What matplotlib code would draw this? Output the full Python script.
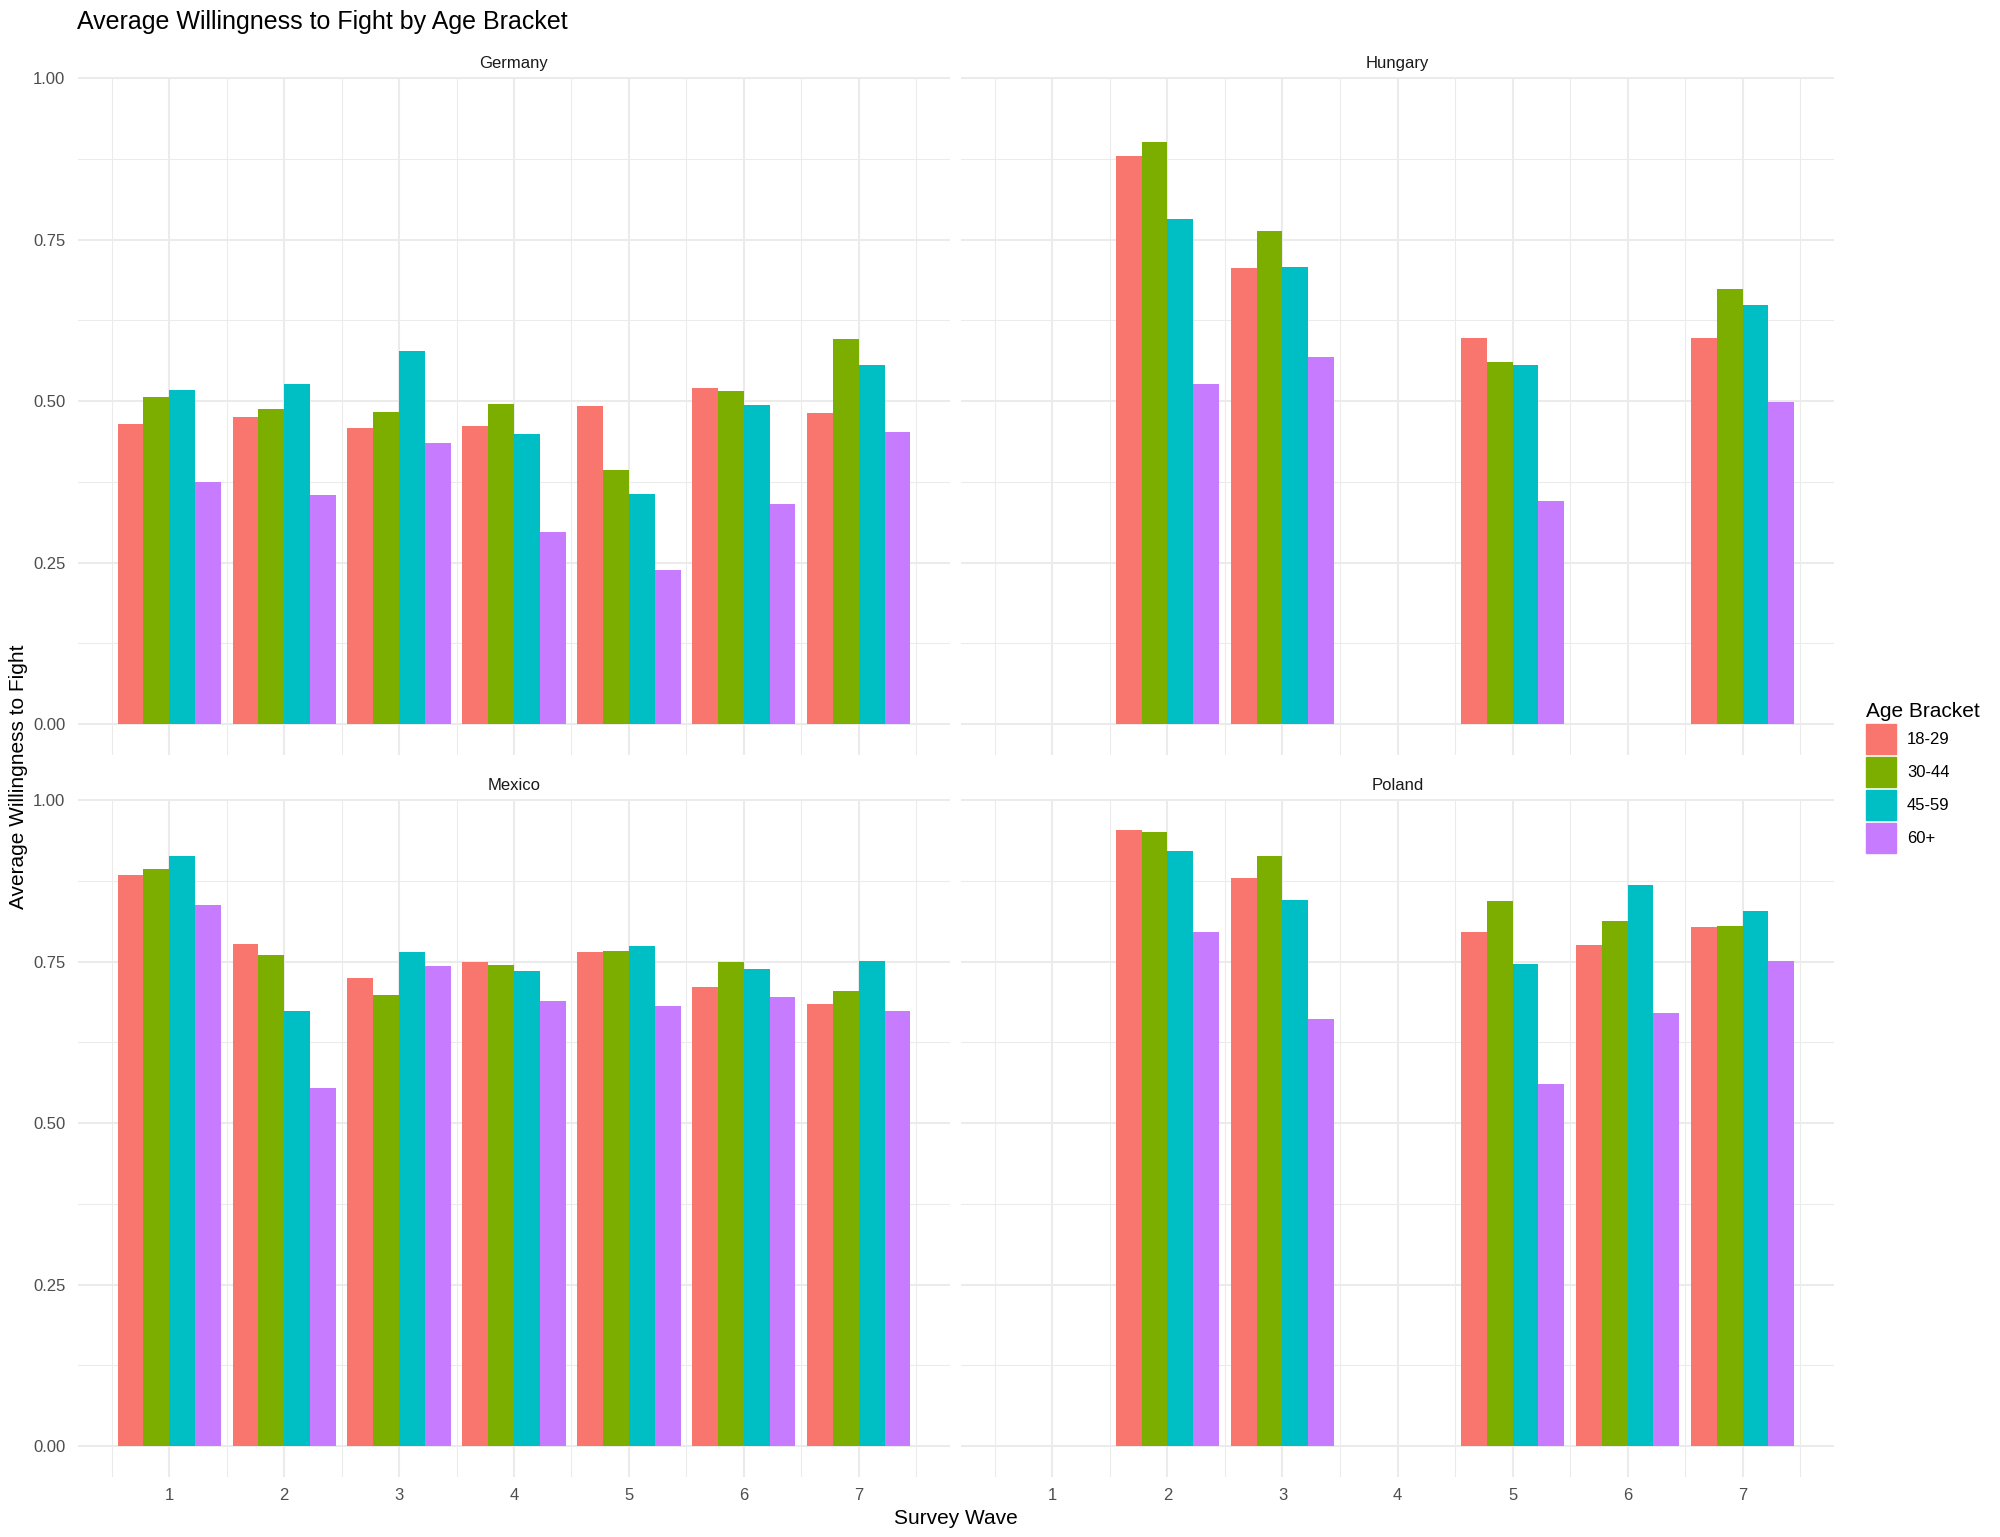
import matplotlib
matplotlib.use("Agg")
import matplotlib.pyplot as plt
import matplotlib.patches as mpatches
import numpy as np

waves = [1, 2, 3, 4, 5, 6, 7]
age_brackets = ["18-29", "30-44", "45-59", "60+"]
countries = ["Germany", "Hungary", "Mexico", "Poland"]

germany = [
    [0.465, 0.476, 0.459, 0.461, 0.492, 0.521, 0.481],
    [0.506, 0.488, 0.483, 0.496, 0.393, 0.516, 0.596],
    [0.518, 0.526, 0.578, 0.449, 0.357, 0.494, 0.556],
    [0.375, 0.355, 0.435, 0.298, 0.238, 0.341, 0.452],
]
hungary = [
    [None, 0.879, 0.706, None, 0.598, None, 0.598],
    [None, 0.901, 0.764, None, 0.560, None, 0.673],
    [None, 0.782, 0.708, None, 0.556, None, 0.649],
    [None, 0.526, 0.569, None, 0.346, None, 0.499],
]
mexico = [
    [0.884, 0.778, 0.725, 0.749, 0.765, 0.711, 0.684],
    [0.893, 0.760, 0.699, 0.745, 0.767, 0.749, 0.705],
    [0.913, 0.674, 0.765, 0.736, 0.774, 0.738, 0.751],
    [0.837, 0.555, 0.743, 0.689, 0.682, 0.696, 0.674],
]
poland = [
    [None, 0.954, 0.879, None, 0.796, 0.776, 0.804],
    [None, 0.950, 0.913, None, 0.844, 0.813, 0.805],
    [None, 0.921, 0.846, None, 0.747, 0.868, 0.828],
    [None, 0.796, 0.661, None, 0.561, 0.670, 0.751],
]
country_values = [germany, hungary, mexico, poland]

colors = ["#F8766D", "#7CAE00", "#00BFC4", "#C77CFF"]

plt.rcParams["font.family"] = ["Liberation Sans", "DejaVu Sans"]

W, H = 2000, 1537
fig = plt.figure(figsize=(W / 100, H / 100), dpi=100)
fig.patch.set_facecolor("white")


def px_axes(x0, x1, ytop, ybot):
    return fig.add_axes([x0 / W, 1 - ybot / H, (x1 - x0) / W, (ybot - ytop) / H])


# panel boxes in pixels (left, right) and (top, bottom)
cols = [(78, 950), (961, 1834)]
rows = [(77, 755), (799, 1477)]

bar_w = 0.225
for k, (name, vals) in enumerate(zip(countries, country_values)):
    r, c = divmod(k, 2)
    ax = px_axes(cols[c][0], cols[c][1], rows[r][0], rows[r][1])
    ax.set_xlim(0.205, 7.795)
    ax.set_ylim(-0.0477, 1.0017)
    ax.set_axisbelow(True)

    for j, series in enumerate(vals):
        xs = [w + (j - 1.5) * bar_w for w, v in zip(waves, series) if v is not None]
        ys = [v for v in series if v is not None]
        ax.bar(xs, ys, width=bar_w, color=colors[j], linewidth=0)

    ax.set_xticks(waves)
    ax.set_xticks(np.arange(0.5, 8, 1), minor=True)
    ax.set_yticks([0, 0.25, 0.5, 0.75, 1.0])
    ax.set_yticks([0.125, 0.375, 0.625, 0.875], minor=True)
    ax.grid(which="major", color="#EBEBEB", linewidth=1.5)
    ax.grid(which="minor", color="#EBEBEB", linewidth=0.75)
    for s in ax.spines.values():
        s.set_visible(False)
    ax.tick_params(which="both", length=0, colors="#4D4D4D", labelsize=12)
    ax.tick_params(axis="y", pad=9)
    ax.tick_params(axis="x", pad=8)
    ax.set_yticklabels(["0.00", "0.25", "0.50", "0.75", "1.00"])
    if c == 1:
        ax.tick_params(axis="y", labelleft=False)
    if r == 0:
        ax.tick_params(axis="x", labelbottom=False)

    # facet strip label, a little above the panel
    strip_y = 1 + 13 / (rows[r][1] - rows[r][0])
    ax.text(0.5, strip_y, name, transform=ax.transAxes, ha="center", va="center",
            fontsize=12, color="#1A1A1A")

fig.text(77 / W, 1 - 22 / H, "Average Willingness to Fight by Age Bracket",
         ha="left", va="center", fontsize=18, color="black")
fig.text(956 / W, 1 - 1518 / H, "Survey Wave", ha="center", va="center",
         fontsize=15, color="black")
fig.text(19 / W, 1 - 777 / H, "Average Willingness to Fight", ha="center",
         va="center", rotation=90, fontsize=15, color="black")

handles = [mpatches.Patch(color=col, label=lab) for col, lab in zip(colors, age_brackets)]
fig.legend(handles=handles, title="Age Bracket", loc="upper left",
           bbox_to_anchor=(1866 / W, 1 - 702 / H), frameon=False, borderpad=0,
           borderaxespad=0, fontsize=12, title_fontsize=15, alignment="left",
           handlelength=1.8, handleheight=2.39, labelspacing=0.18, handletextpad=0.65)

fig.savefig("out.png", dpi=100, facecolor="white")
